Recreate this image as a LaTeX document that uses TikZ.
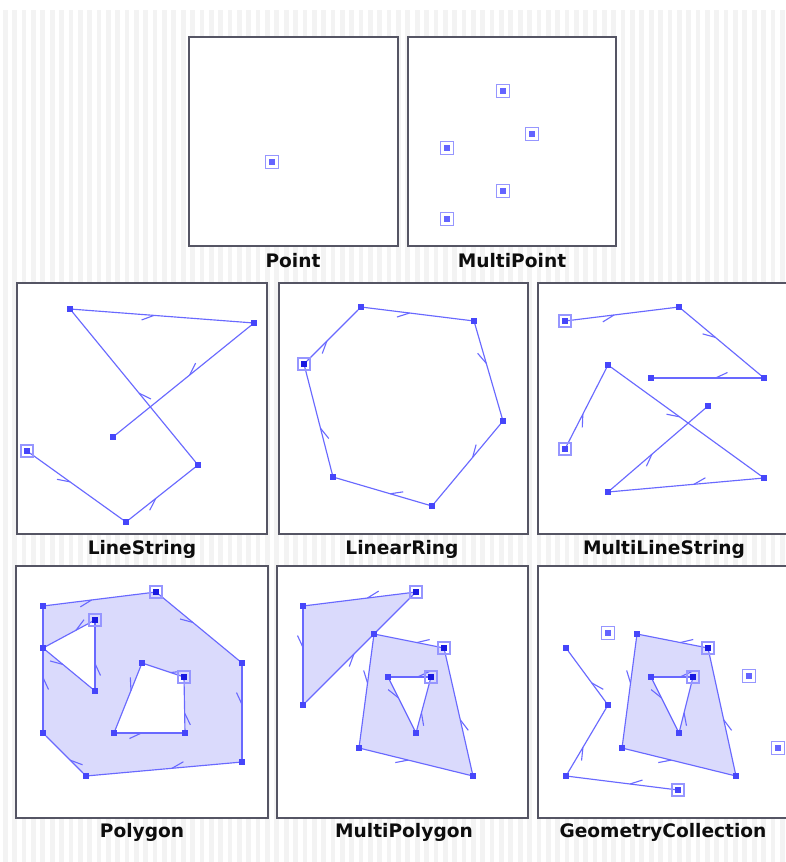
\documentclass[tikz,border=0pt]{standalone}
\usepackage{fontspec}
\setmainfont{DejaVu Sans}
\usetikzlibrary{decorations.markings}
\pgfdeclarelayer{back}
\pgfdeclarelayer{mid}
\pgfsetlayers{back,mid,main}
\definecolor{linecol}{RGB}{105,105,255}
\definecolor{vtxcol}{RGB}{70,70,250}
\definecolor{startcol}{RGB}{25,25,225}
\definecolor{ringcol}{RGB}{150,150,255}
\definecolor{ptcol}{RGB}{100,100,255}
\definecolor{fillcol}{RGB}{218,218,252}
\definecolor{framecol}{RGB}{85,85,100}
\definecolor{stripecol}{RGB}{243,243,243}
\tikzset{
 vtx/.style={rectangle, fill=vtxcol, minimum size=6pt, inner sep=0pt, outer sep=0pt},
 ring/.style={rectangle, draw=ringcol, line width=1.3pt, minimum size=12pt, inner sep=0pt},
 startv/.style={vtx, fill=startcol, label={[ring]center:}},
 startl/.style={vtx, label={[ring]center:}},
 ptm/.style={rectangle, fill=ptcol, minimum size=6pt, inner sep=0pt, label={[ring, minimum size=13pt, line width=1.6pt]center:}},
 edge/.style={draw=linecol, line width=1.15pt, postaction={decorate},
   decoration={markings, mark=at position 0.5 with {\draw[linecol, line width=1.1pt] (-8pt,0pt) -- (-20pt,-5.5pt);}}},
 panel/.style={draw=framecol, line width=1.6pt, fill=white},
 lab/.style={font=\fontsize{18.6}{21}\selectfont\bfseries, text=black!95, anchor=base, inner sep=0pt},
 pfill/.style={fill=fillcol, even odd rule},
}
\begin{document}
\begin{tikzpicture}[x=1pt,y=-1pt]
\useasboundingbox (0,0) rectangle (786,862);
\clip (0,0) rectangle (786,862);
\begin{pgfonlayer}{back}
\fill[white] (0,0) rectangle (786,862);
\foreach \i in {0,...,83} {\fill[stripecol] ({3+\i*9.36},10) rectangle ({7.7+\i*9.36},862);}
\draw[panel] (189,37) rectangle (398,246);
\draw[panel] (408,37) rectangle (616,246);
\draw[panel] (17,283) rectangle (267,534);
\draw[panel] (279,283) rectangle (528,534);
\draw[panel] (538,283) rectangle (792,534);
\draw[panel] (16,566) rectangle (268,818);
\draw[panel] (277,566) rectangle (528,818);
\draw[panel] (538,566) rectangle (792,818);
\end{pgfonlayer}

% labels
\node[lab] (tPoint) at (293,267) {Point};
\node[lab] (tMPoint) at (512,267) {MultiPoint};
\node[lab] (tLS) at (142,554) {LineString};
\node[lab] (tLR) at (402,554) {LinearRing};
\node[lab] (tMLS) at (664,554) {MultiLineString};
\node[lab] (tPoly) at (142,837) {Polygon};
\node[lab] (tMPoly) at (404,837) {MultiPolygon};
\node[lab] (tGC) at (663,837) {GeometryCollection};

% Point / MultiPoint
\node[ptm] (p0) at (272,162) {};
\node[ptm] (mp1) at (503,91) {};
\node[ptm] (mp2) at (532,134) {};
\node[ptm] (mp3) at (447,148) {};
\node[ptm] (mp4) at (503,191) {};
\node[ptm] (mp5) at (447,219) {};

% LineString
\node[startl] (lsA) at (27,451) {};
\node[vtx] (lsB) at (126,522) {};
\node[vtx] (lsC) at (198,465) {};
\node[vtx] (lsD) at (70,309) {};
\node[vtx] (lsE) at (254,323) {};
\node[vtx] (lsF) at (113,437) {};
\begin{pgfonlayer}{mid}
\draw[edge] (lsA) -- (lsB);
\draw[edge] (lsB) -- (lsC);
\draw[edge] (lsC) -- (lsD);
\draw[edge] (lsD) -- (lsE);
\draw[edge] (lsE) -- (lsF);
\end{pgfonlayer}

% LinearRing
\node[startv] (lr0) at (304,364) {};
\node[vtx] (lr1) at (361,307) {};
\node[vtx] (lr2) at (474,321) {};
\node[vtx] (lr3) at (503,421) {};
\node[vtx] (lr4) at (432,506) {};
\node[vtx] (lr5) at (333,477) {};
\begin{pgfonlayer}{mid}
\draw[edge] (lr0) -- (lr1);
\draw[edge] (lr1) -- (lr2);
\draw[edge] (lr2) -- (lr3);
\draw[edge] (lr3) -- (lr4);
\draw[edge] (lr4) -- (lr5);
\draw[edge] (lr5) -- (lr0);
\end{pgfonlayer}

% MultiLineString
\node[startl] (ma1) at (565,321) {};
\node[vtx] (ma2) at (679,307) {};
\node[vtx] (ma3) at (764,378) {};
\node[vtx] (ma4) at (651,378) {};
\node[startl] (mb1) at (565,449) {};
\node[vtx] (mb2) at (608,365) {};
\node[vtx] (mb3) at (764,478) {};
\node[vtx] (mb4) at (608,492) {};
\node[vtx] (mb5) at (708,406) {};
\begin{pgfonlayer}{mid}
\draw[edge] (ma1) -- (ma2);
\draw[edge] (ma2) -- (ma3);
\draw[edge] (ma3) -- (ma4);
\draw[edge] (mb1) -- (mb2);
\draw[edge] (mb2) -- (mb3);
\draw[edge] (mb3) -- (mb4);
\draw[edge] (mb4) -- (mb5);
\end{pgfonlayer}

% Polygon
\node[startv] (s1) at (156,592) {};
\node[vtx] (s2) at (242,663) {};
\node[vtx] (s3) at (242,762) {};
\node[vtx] (s4) at (86,776) {};
\node[vtx] (s5) at (43,733) {};
\node[vtx] (s6) at (43,606) {};
\node[startv] (h1) at (95,620) {};
\node[vtx] (h2) at (43,648) {};
\node[vtx] (h3) at (95,691) {};
\node[startv] (k1) at (184,677) {};
\node[vtx] (k2) at (142,663) {};
\node[vtx] (k3) at (114,733) {};
\node[vtx] (k4) at (185,733) {};
\begin{pgfonlayer}{mid}
\fill[pfill] (s1.center) -- (s2.center) -- (s3.center) -- (s4.center) -- (s5.center) -- (s6.center) -- cycle
  (h1.center) -- (h2.center) -- (h3.center) -- cycle
  (k1.center) -- (k2.center) -- (k3.center) -- (k4.center) -- cycle;
\draw[edge] (s1) -- (s2);
\draw[edge] (s2) -- (s3);
\draw[edge] (s3) -- (s4);
\draw[edge] (s4) -- (s5);
\draw[edge] (s5) -- (s6);
\draw[edge] (s6) -- (s1);
\draw[edge] (h1) -- (h2);
\draw[edge] (h2) -- (h3);
\draw[edge] (h3) -- (h1);
\draw[edge] (k1) -- (k2);
\draw[edge] (k2) -- (k3);
\draw[edge] (k3) -- (k4);
\draw[edge] (k4) -- (k1);
\end{pgfonlayer}

% MultiPolygon
\node[startv] (a1) at (416,592) {};
\node[vtx] (a2) at (303,606) {};
\node[vtx] (a3) at (303,705) {};
\node[startv] (b1) at (444,648) {};
\node[vtx] (b2) at (374,634) {};
\node[vtx] (b3) at (359,748) {};
\node[vtx] (b4) at (473,776) {};
\node[startv] (c1) at (431,677) {};
\node[vtx] (c2) at (388,677) {};
\node[vtx] (c3) at (416,733) {};
\begin{pgfonlayer}{mid}
\fill[pfill] (a1.center) -- (a2.center) -- (a3.center) -- cycle;
\fill[pfill] (b1.center) -- (b2.center) -- (b3.center) -- (b4.center) -- cycle
  (c1.center) -- (c2.center) -- (c3.center) -- cycle;
\draw[edge] (a1) -- (a2);
\draw[edge] (a2) -- (a3);
\draw[edge] (a3) -- (a1);
\draw[edge] (b1) -- (b2);
\draw[edge] (b2) -- (b3);
\draw[edge] (b3) -- (b4);
\draw[edge] (b4) -- (b1);
\draw[edge] (c1) -- (c2);
\draw[edge] (c2) -- (c3);
\draw[edge] (c3) -- (c1);
\end{pgfonlayer}

% GeometryCollection
\node[ptm] (q1) at (608,633) {};
\node[ptm] (q2) at (749,676) {};
\node[ptm] (q3) at (778,748) {};
\node[startl] (m1) at (678,790) {};
\node[vtx] (m2) at (566,776) {};
\node[vtx] (m3) at (608,705) {};
\node[vtx] (m4) at (566,648) {};
\node[startv] (d1) at (708,648) {};
\node[vtx] (d2) at (637,634) {};
\node[vtx] (d3) at (622,748) {};
\node[vtx] (d4) at (736,776) {};
\node[startv] (e1) at (693,677) {};
\node[vtx] (e2) at (651,677) {};
\node[vtx] (e3) at (679,733) {};
\begin{pgfonlayer}{mid}
\fill[pfill] (d1.center) -- (d2.center) -- (d3.center) -- (d4.center) -- cycle
  (e1.center) -- (e2.center) -- (e3.center) -- cycle;
\draw[edge] (m1) -- (m2);
\draw[edge] (m2) -- (m3);
\draw[edge] (m3) -- (m4);
\draw[edge] (d1) -- (d2);
\draw[edge] (d2) -- (d3);
\draw[edge] (d3) -- (d4);
\draw[edge] (d4) -- (d1);
\draw[edge] (e1) -- (e2);
\draw[edge] (e2) -- (e3);
\draw[edge] (e3) -- (e1);
\end{pgfonlayer}
\end{tikzpicture}
\end{document}
